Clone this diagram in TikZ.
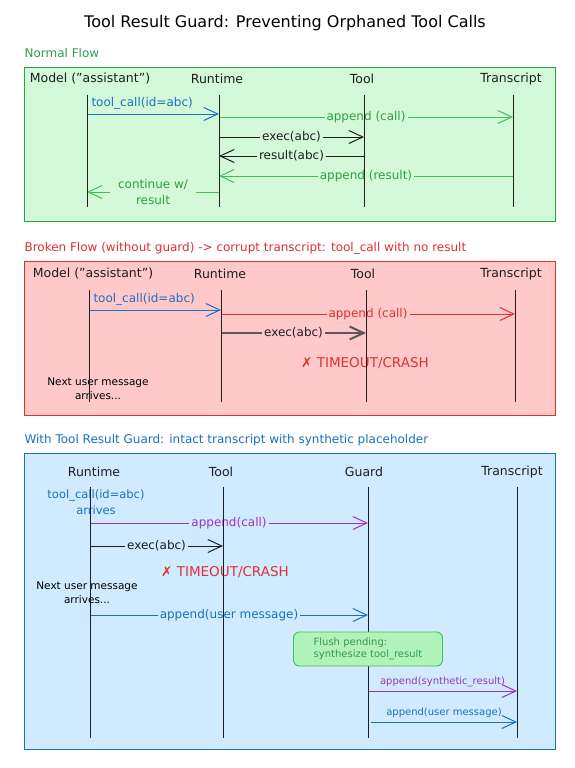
\documentclass[tikz,border=0pt]{standalone}
\usepackage{fontspec}
\setmainfont{DejaVu Sans}
\usetikzlibrary{arrows.meta, positioning, calc}
\definecolor{flowgreen}{HTML}{2F9E44}
\definecolor{flowgreenln}{HTML}{40C057}
\definecolor{flowgreenbg}{HTML}{D3F9D8}
\definecolor{flowgreenbox}{HTML}{B2F2BB}
\definecolor{flowred}{HTML}{E03131}
\definecolor{flowredbg}{HTML}{FFC9C9}
\definecolor{flowblue}{HTML}{1971C2}
\definecolor{flowbluebg}{HTML}{D0EBFF}
\definecolor{flowpurple}{HTML}{9C36B5}
\definecolor{flowdark}{HTML}{1E1E1E}

\begin{document}
\begin{tikzpicture}[
    x=1pt, y=-1pt,
    frame/.style={line width=0.9pt},
    actor/.style={font=\fontsize{12.5}{14}\selectfont, text=flowdark},
    heading/.style={font=\fontsize{12}{14}\selectfont, anchor=west},
    life/.style={draw=flowdark, line width=0.8pt},
    arr/.style={-{Straight Barb[length=14pt,width=13pt]}, line width=1pt},
    lbl/.style={midway, font=\fontsize{12}{14}\selectfont, inner sep=2pt},
    note/.style={font=\fontsize{10.5}{14}\selectfont, align=center},
    crash/.style={font=\fontsize{13.5}{15}\selectfont, text=flowred},
    flush/.style={rectangle, rounded corners=6pt, draw=flowgreenln, line width=0.9pt,
                  fill=flowgreenbox, text=flowgreen, align=left, font=\fontsize{10}{12}\selectfont,
                  minimum width=149pt, minimum height=34pt},
]
    \fill[white] (0,0) rectangle (575,768);
    \node[font=\fontsize{16}{18}\selectfont] (title) at (285,23) {Tool Result Guard: Preventing Orphaned Tool Calls};

    % normal flow
    \node[heading, text=flowgreen] (normalT) at (21,53) {Normal Flow};
    \draw[frame, draw=flowgreen, fill=flowgreenbg] (24,67) rectangle (555,221);
    \node[actor] (modelA) at (90,79) {Model ("assistant")};
    \node[actor] (runA) at (217,79) {Runtime};
    \node[actor] (toolA) at (362,79) {Tool};
    \node[actor] (transA) at (511,79) {Transcript};
    \coordinate (mA) at (87,95);
    \coordinate (rA) at (219,95);
    \coordinate (tA) at (364,95);
    \coordinate (xA) at (513,95);

    \draw[arr, flowblue] (mA |- 0,114) -- (rA |- 0,114)
        node[lbl, pos=0, anchor=south west, xshift=2pt, yshift=2pt] {tool\_call(id=abc)};
    \draw[arr, flowgreenln] (rA |- 0,117) -- (xA |- 0,117) node[lbl, fill=flowgreenbg, text=flowgreen] {append (call)};
    \draw[arr, flowdark] (rA |- 0,137) -- (tA |- 0,137) node[lbl, fill=flowgreenbg] {exec(abc)};
    \draw[arr, flowdark] (tA |- 0,156) -- (rA |- 0,156) node[lbl, fill=flowgreenbg] {result(abc)};
    \draw[arr, flowgreenln] (xA |- 0,176) -- (rA |- 0,176) node[lbl, fill=flowgreenbg, text=flowgreen] {append (result)};
    \draw[arr, flowgreenln] (rA |- 0,192) -- (mA |- 0,192)
        node[lbl, fill=flowgreenbg, text=flowgreen, align=center, inner xsep=8pt, font=\fontsize{12}{16}\selectfont] {continue w/\\result};
    \foreach \p in {mA, rA, tA, xA}
        \draw[life] (\p) -- ++(0,112);

    % broken flow
    \node[heading, text=flowred] (brokenT) at (21,248) {Broken Flow (without guard) -> corrupt transcript: tool\_call with no result};
    \draw[frame, draw=flowred, fill=flowredbg] (24,261) rectangle (555,415);
    \node[actor] (modelB) at (93,274) {Model ("assistant")};
    \node[actor] (runB) at (220,274) {Runtime};
    \node[actor] (toolB) at (363,274) {Tool};
    \node[actor] (transB) at (511,274) {Transcript};
    \coordinate (mB) at (89,290);
    \coordinate (rB) at (221,290);
    \coordinate (tB) at (366,290);
    \coordinate (xB) at (515,290);

    \draw[arr, flowblue] (mB |- 0,310) -- (rB |- 0,310)
        node[lbl, pos=0, anchor=south west, xshift=2pt, yshift=2pt] {tool\_call(id=abc)};
    \draw[arr, flowred] (rB |- 0,314) -- (xB |- 0,314) node[lbl, fill=flowredbg, text=flowred] {append (call)};
    \draw[arr, black!65, line width=2pt] (rB |- 0,333) -- (tB |- 0,333) node[lbl, fill=flowredbg, text=flowdark] {exec(abc)};
    \node[crash] (crashB) at (365,363) {✗ TIMEOUT/CRASH};
    \node[note] (nextB) at (98,389) {Next user message\\arrives...};
    \foreach \p in {mB, rB, tB, xB}
        \draw[life] (\p) -- ++(0,112);

    % with guard
    \node[heading, text=flowblue] (guardT) at (21,440) {With Tool Result Guard: intact transcript with synthetic placeholder};
    \draw[frame, draw=flowblue, fill=flowbluebg] (24,453) rectangle (555,749);
    \node[actor] (runC) at (94,472) {Runtime};
    \node[actor] (toolC) at (221,472) {Tool};
    \node[actor] (guardC) at (364,472) {Guard};
    \node[actor] (transC) at (512,472) {Transcript};
    \coordinate (rC) at (90,487);
    \coordinate (tC) at (223,487);
    \coordinate (gC) at (368,487);
    \coordinate (xC) at (517,487);

    \node[note, text=flowblue, font=\fontsize{11.5}{16}\selectfont] (arrivesC) at (96,502) {tool\_call(id=abc)\\arrives};
    \draw[arr, flowpurple] (rC |- 0,523) -- (gC |- 0,523) node[lbl, fill=flowbluebg] {append(call)};
    \draw[arr, flowdark] (rC |- 0,546) -- (tC |- 0,546) node[lbl, fill=flowbluebg] {exec(abc)};
    \node[crash] (crashC) at (225,572) {✗ TIMEOUT/CRASH};
    \node[note] (nextC) at (87,593) {Next user message\\arrives...};
    \draw[arr, flowblue] (rC |- 0,615) -- (gC |- 0,615) node[lbl, fill=flowbluebg] {append(user message)};
    \draw[arr, flowpurple] (gC |- 0,691) -- (xC |- 0,691)
        node[lbl, above, yshift=2pt, font=\fontsize{10}{12}\selectfont] {append(synthetic\_result)};
    \draw[arr, flowblue] ([xshift=3pt]gC |- 0,722) -- (xC |- 0,722)
        node[lbl, above, yshift=2pt, font=\fontsize{10}{12}\selectfont] {append(user message)};
    \foreach \p in {rC, tC, gC, xC}
        \draw[life] (\p) -- ++(0,251);
    \node[flush] (flush) at (368,649) {Flush pending:\\synthesize tool\_result};
\end{tikzpicture}
\end{document}
